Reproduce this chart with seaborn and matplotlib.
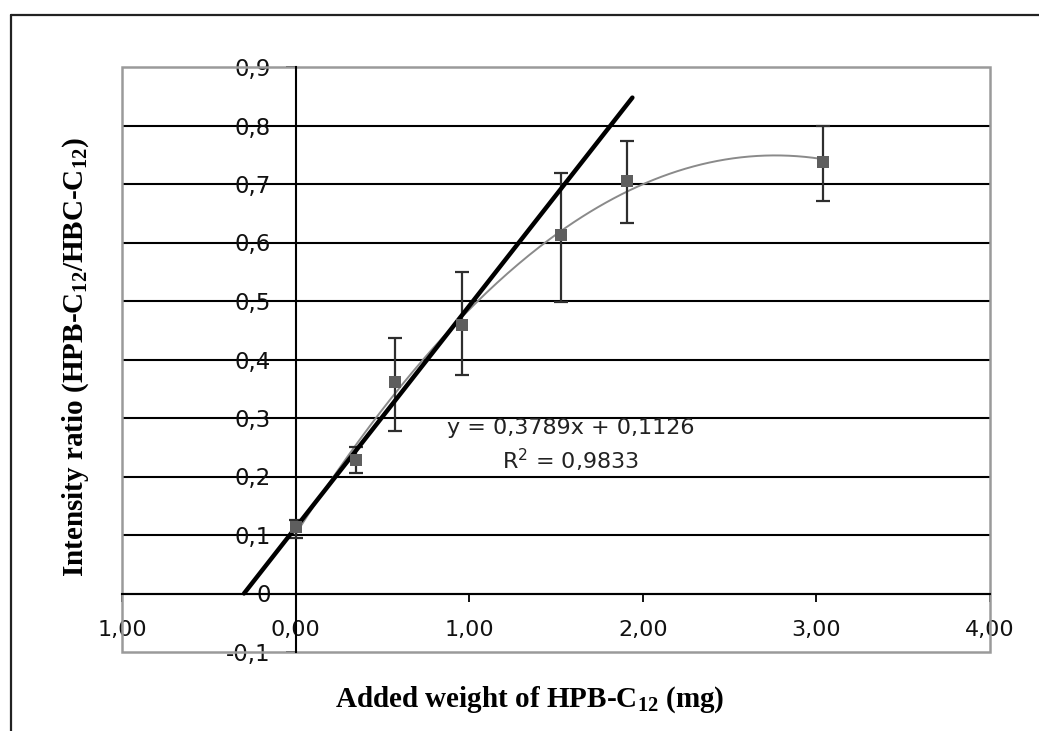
import numpy as np
import pandas as pd
import matplotlib
matplotlib.use("Agg")
import matplotlib.pyplot as plt
import seaborn as sns
from matplotlib.patches import Rectangle
from matplotlib.lines import Line2D

# ---- data ----
added_weight = [0.0, 0.347, 0.573, 0.957, 1.53, 1.91, 3.04]
intensity_ratio = [0.114, 0.228, 0.362, 0.459, 0.613, 0.705, 0.738]
err_low = [0.019, 0.022, 0.084, 0.086, 0.115, 0.072, 0.067]
err_high = [0.012, 0.022, 0.075, 0.090, 0.106, 0.069, 0.062]

fit_slope = 0.3789
fit_intercept = 0.1126
fit_x_range = [-0.297, 1.94]
poly_order = 2

x_ticks = [-1, 0, 1, 2, 3, 4]
x_tick_labels = ["1,00", "0,00", "1,00", "2,00", "3,00", "4,00"]
y_ticks = [-0.1, 0, 0.1, 0.2, 0.3, 0.4, 0.5, 0.6, 0.7, 0.8, 0.9]
y_tick_labels = ["-0,1", "0", "0,1", "0,2", "0,3", "0,4", "0,5", "0,6", "0,7", "0,8", "0,9"]

eq_text = "y = 0,3789x + 0,1126\nR$^2$ = 0,9833"
x_label = "Added weight of HPB-C$_{12}$ (mg)"
y_label = "Intensity ratio (HPB-C$_{12}$/HBC-C$_{12}$)"

# ---- style ----
sns.set_theme(style="white")
plt.rcParams["font.family"] = ["DejaVu Sans"]
plt.rcParams["mathtext.default"] = "regular"

W, H = 1039, 731
fig = plt.figure(figsize=(W / 100, H / 100), dpi=100)
fig.patch.set_facecolor("white")
ax = fig.add_axes([122 / W, 1 - 652 / H, (990 - 122) / W, (652 - 67) / H])
ax.set_facecolor("white")

df = pd.DataFrame({"x": added_weight, "y": intensity_ratio})

# polynomial trend line (gray)
coef = np.polyfit(added_weight, intensity_ratio, poly_order)
xc = np.linspace(min(added_weight), max(added_weight), 200)
curve = pd.DataFrame({"x": xc, "y": np.polyval(coef, xc)})
sns.lineplot(data=curve, x="x", y="y", ax=ax, color="#8a8a8a", lw=1.4, zorder=4)

# linear fit (thick black)
lx = np.array(fit_x_range)
lin = pd.DataFrame({"x": lx, "y": fit_slope * lx + fit_intercept})
sns.lineplot(data=lin, x="x", y="y", ax=ax, color="black", lw=3.2, zorder=6)

# error bars
ax.errorbar(added_weight, intensity_ratio, yerr=[err_low, err_high], fmt="none",
            ecolor="#2e2e2e", elinewidth=1.6, capsize=4.8, capthick=1.6, zorder=5)
# points
sns.scatterplot(data=df, x="x", y="y", ax=ax, marker="s", s=70, color="#5e5e5e",
                edgecolor="#5e5e5e", linewidth=0, zorder=7)

ax.set_xlim(-1, 4)
ax.set_ylim(-0.1, 0.9)

# axes through the origin
ax.spines["left"].set_position(("data", 0))
ax.spines["bottom"].set_position(("data", 0))
for s in ["left", "bottom"]:
    ax.spines[s].set_color("black")
    ax.spines[s].set_linewidth(1.5)
    ax.spines[s].set_zorder(3)
for s in ["top", "right"]:
    ax.spines[s].set_visible(False)

ax.add_patch(Rectangle((0, 0), 1, 1, transform=ax.transAxes, fill=False,
                       edgecolor="#9a9a9a", lw=1.8, zorder=2, clip_on=False))

ax.set_xticks(x_ticks)
ax.set_xticklabels(x_tick_labels)
ax.set_yticks(y_ticks)
ax.set_yticklabels(y_tick_labels)
ax.tick_params(axis="x", direction="out", length=6, width=1.3, color="black",
               pad=13, labelsize=16, labelcolor="#111111", bottom=True)
ax.tick_params(axis="y", direction="out", length=7, width=1.3, color="black",
               pad=11, labelsize=16.5, labelcolor="#111111", left=True)

ax.yaxis.grid(True, color="black", lw=1.5)
ax.xaxis.grid(False)
gl = ax.get_ygridlines()
gl[0].set_visible(False)
gl[-1].set_visible(False)
ax.set_axisbelow(True)

ax.set_xlabel(x_label, family="Liberation Serif", fontweight="bold", fontsize=21, color="black")
ax.set_ylabel(y_label, family="Liberation Serif", fontweight="bold", fontsize=21, color="black")
ax.xaxis.label.set_verticalalignment("center")
ax.yaxis.label.set_verticalalignment("center")
ax.xaxis.set_label_coords((530 - 122) / 868, (652 - 700) / 585)
ax.yaxis.set_label_coords((76 - 122) / 868, (652 - 357) / 585)

ax.text(1.586, 0.252, eq_text, ha="center", va="center", fontsize=16,
        color="#222222", linespacing=1.4, zorder=8)

# outer frame (left and top)
fig.add_artist(Line2D([11 / W, 11 / W], [0, 1 - 15 / H], transform=fig.transFigure,
                      color="#222222", lw=1.6))
fig.add_artist(Line2D([11 / W, 1], [1 - 15 / H, 1 - 15 / H], transform=fig.transFigure,
                      color="#222222", lw=1.6))

fig.savefig("out.png", dpi=100)
